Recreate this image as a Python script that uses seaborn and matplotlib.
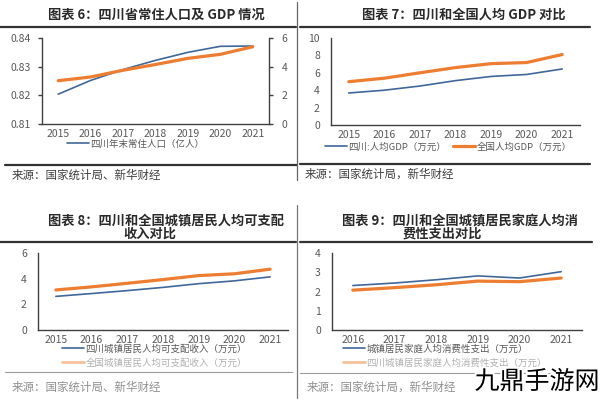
import matplotlib
matplotlib.use("Agg")
import matplotlib.pyplot as plt
import matplotlib.patheffects as pe
from matplotlib.lines import Line2D
from matplotlib.ticker import FixedLocator
import seaborn as sns

# data
years_a = ["2015", "2016", "2017", "2018", "2019", "2020", "2021"]
years_b = ["2016", "2017", "2018", "2019", "2020", "2021"]

sc_population = [0.8204, 0.8252, 0.8290, 0.8322, 0.8350, 0.8371, 0.8372]  # 亿人
sc_gdp = [3.02, 3.28, 3.75, 4.15, 4.58, 4.86, 5.39]  # 万亿元, right axis

sc_gdp_pc = [3.68, 4.00, 4.48, 5.10, 5.58, 5.81, 6.44]
cn_gdp_pc = [4.98, 5.38, 6.00, 6.60, 7.05, 7.18, 8.10]

sc_income = [2.62, 2.84, 3.07, 3.32, 3.61, 3.83, 4.14]
cn_income = [3.12, 3.36, 3.64, 3.93, 4.24, 4.38, 4.74]

cn_consume = [2.31, 2.44, 2.61, 2.81, 2.70, 3.03]
sc_consume = [2.07, 2.20, 2.35, 2.54, 2.51, 2.70]

BLUE = "#41679A"
ORANGE = "#ED7D31"
ORANGE_LIGHT = "#F6C09A"
SPINE = "#404040"
TXT = "#595959"

sns.set_style("white")
plt.rcParams["font.family"] = ["Noto Sans CJK SC", "DejaVu Sans"]
plt.rcParams["axes.unicode_minus"] = False

fig = plt.figure(figsize=(6, 4), dpi=100)
W, H = 600.0, 400.0


def fx(x):
    return x / W


def fy(y):
    return 1 - y / H


def rect(x0, x1, ytop, ybot):
    return [fx(x0), fy(ybot), (x1 - x0) / W, (ybot - ytop) / H]


def rule(x0, x1, y0, y1, lw=1.4, color="#333333"):
    fig.add_artist(Line2D([fx(x0), fx(x1)], [fy(y0), fy(y1)], lw=lw, color=color,
                          transform=fig.transFigure))


def style_axis(ax, n, yticks):
    ax.set_xlim(-0.5, n - 0.5)
    ax.set_ylim(yticks[0], yticks[-1])
    ax.set_yticks(yticks)
    ax.set_xlabel("")
    ax.set_ylabel("")
    for s in ["top", "right"]:
        ax.spines[s].set_visible(False)
    for s in ["left", "bottom"]:
        ax.spines[s].set_color(SPINE)
        ax.spines[s].set_linewidth(1.0)
    ax.xaxis.set_minor_locator(FixedLocator([i + 0.5 for i in range(-1, n)]))
    ax.tick_params(axis="x", which="major", length=0, pad=3.5, labelsize=7.5, labelcolor=TXT)
    ax.tick_params(axis="x", which="minor", length=3, width=1, color=SPINE, direction="out")
    ax.tick_params(axis="y", which="major", length=3, width=1, color=SPINE, direction="out",
                   pad=5, labelsize=7.5, labelcolor=TXT)


def legend(ax, handles, labels, x, y, ncol=1, colors=None):
    leg = ax.legend(handles, labels, loc="center left", bbox_to_anchor=(fx(x), fy(y)),
                    bbox_transform=fig.transFigure, frameon=False, ncol=ncol,
                    fontsize=6.8, handlelength=2.3, handletextpad=0.2,
                    columnspacing=0.7, labelspacing=0.5, borderpad=0, borderaxespad=0)
    for i, t in enumerate(leg.get_texts()):
        t.set_color(colors[i] if colors else TXT)
    return leg


title_kw = dict(fontsize=9.5, fontweight="bold", color="#2a2a2a", va="center")
src_kw = dict(fontsize=8.3, color="#404040", va="center")

# ---------- 图表6 ----------
ax1 = fig.add_axes(rect(42, 269, 38, 124))
sns.lineplot(x=years_a, y=sc_population, ax=ax1, color=BLUE, lw=1.2, sort=False)
ax1r = ax1.twinx()
sns.lineplot(x=years_a, y=sc_gdp, ax=ax1r, color=ORANGE, lw=2.3, sort=False)
style_axis(ax1, 7, [0.81, 0.82, 0.83, 0.84])
ax1.set_yticklabels(["0.81", "0.82", "0.83", "0.84"])
ax1r.set_ylim(0, 6)
ax1r.set_yticks([0, 2, 4, 6])
ax1r.set_ylabel("")
for s in ["top", "left", "bottom"]:
    ax1r.spines[s].set_visible(False)
ax1r.spines["right"].set_color(SPINE)
ax1r.spines["right"].set_linewidth(1.0)
ax1r.tick_params(axis="y", length=3, width=1, color=SPINE, direction="out", pad=6,
                 labelsize=7.5, labelcolor=TXT)
if ax1r.get_legend():
    ax1r.get_legend().remove()
legend(ax1, [Line2D([], [], color=BLUE, lw=1.2)], ["四川年末常住人口（亿人）"], 67, 144)

fig.text(fx(48), fy(15), "图表 6：四川省常住人口及 GDP 情况", ha="left", **title_kw)
fig.text(fx(12), fy(175), "来源：国家统计局、新华财经", ha="left", **src_kw)
rule(0, 296, 27, 27, lw=1.6)
rule(5, 297, 165, 165, lw=1.6)
rule(297, 297, 2, 180, lw=0.9, color="#666666")

# ---------- 图表7 ----------
ax2 = fig.add_axes(rect(331, 580, 38, 125))
sns.lineplot(x=years_a, y=sc_gdp_pc, ax=ax2, color=BLUE, lw=1.2, sort=False)
sns.lineplot(x=years_a, y=cn_gdp_pc, ax=ax2, color=ORANGE, lw=2.3, sort=False)
style_axis(ax2, 7, [0, 2, 4, 6, 8, 10])
legend(ax2, [Line2D([], [], color=BLUE, lw=1.2), Line2D([], [], color=ORANGE, lw=2.3)],
       ["四川:人均GDP（万元）", "全国人均GDP（万元）"], 325, 147, ncol=2)

fig.text(fx(362), fy(15), "图表 7：四川和全国人均 GDP 对比", ha="left", **title_kw)
fig.text(fx(305), fy(174), "来源：国家统计局，新华财经", ha="left", **src_kw)
rule(300, 590, 27, 27, lw=1.6)
rule(300, 590, 164, 164, lw=1.6)

# ---------- 图表8 ----------
ax3 = fig.add_axes(rect(38, 288, 253, 330))
sns.lineplot(x=years_a, y=sc_income, ax=ax3, color=BLUE, lw=1.2, sort=False)
sns.lineplot(x=years_a, y=cn_income, ax=ax3, color=ORANGE, lw=2.3, sort=False)
style_axis(ax3, 7, [0, 2, 4, 6])
legend(ax3, [Line2D([], [], color=BLUE, lw=1.2), Line2D([], [], color=ORANGE_LIGHT, lw=2.0)],
       ["四川城镇居民人均可支配收入（万元）", "全国城镇居民人均可支配收入（万元）"], 62, 356,
       colors=[TXT, "#B0B0B0"])

fig.text(fx(48), fy(221), "图表 8：四川和全国城镇居民人均可支配", ha="left", **title_kw)
fig.text(fx(123), fy(234), "收入对比", ha="left", **title_kw)
fig.text(fx(12), fy(387), "来源：国家统计局、新华财经", ha="left",
         **dict(src_kw, color="#909090"))
rule(0, 296, 242, 242, lw=1.6)
rule(5, 292, 372, 372, lw=0.8, color="#9A9A9A")
rule(297, 297, 205, 398, lw=0.9, color="#777777")

# ---------- 图表9 ----------
ax4 = fig.add_axes(rect(332, 582, 253, 330))
sns.lineplot(x=years_b, y=cn_consume, ax=ax4, color=BLUE, lw=1.2, sort=False)
sns.lineplot(x=years_b, y=sc_consume, ax=ax4, color=ORANGE, lw=2.3, sort=False)
style_axis(ax4, 6, [0, 1, 2, 3, 4])
legend(ax4, [Line2D([], [], color=BLUE, lw=1.2), Line2D([], [], color=ORANGE_LIGHT, lw=2.0)],
       ["城镇居民家庭人均消费性支出（万元）", "四川城镇居民家庭人均消费性支出（万元）"], 343, 356,
       colors=[TXT, "#B0B0B0"])

fig.text(fx(342), fy(221), "图表 9：四川和全国城镇居民家庭人均消", ha="left", **title_kw)
fig.text(fx(403), fy(234), "费性支出对比", ha="left", **title_kw)
fig.text(fx(307), fy(387), "来源：国家统计局，新华财经", ha="left",
         **dict(src_kw, color="#909090"))
rule(300, 592, 242, 242, lw=1.6)
rule(300, 592, 373, 373, lw=0.8, color="#9A9A9A")

# watermark
fig.text(fx(537), fy(382), "九鼎手游网", ha="center", va="center", fontsize=18,
         fontweight="light", color="black",
         path_effects=[pe.withStroke(linewidth=3, foreground="white")])

fig.savefig("out.png", dpi=100, facecolor="white")
